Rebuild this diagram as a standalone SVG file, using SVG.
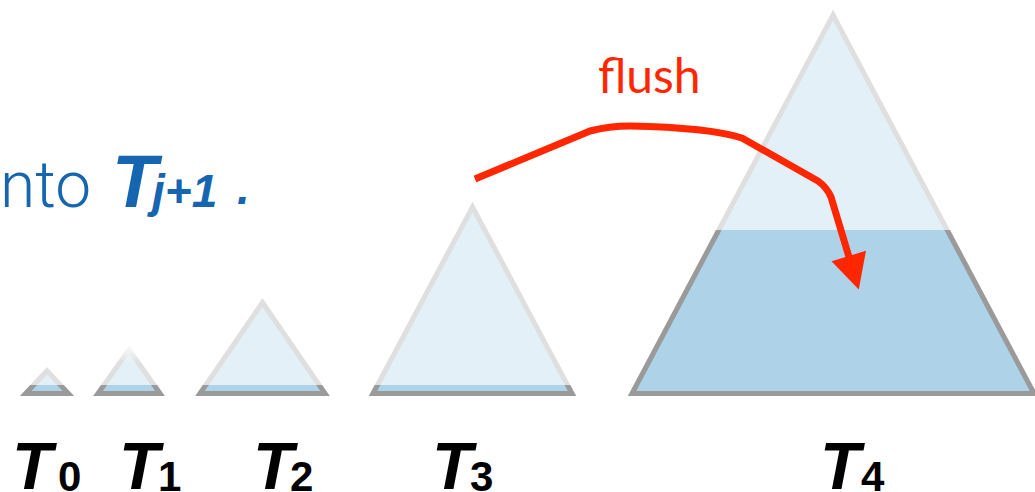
<svg xmlns="http://www.w3.org/2000/svg" width="1035" height="492" viewBox="0 0 1035 492">
<style>
.tri{fill:#e4f0f7;stroke:#dfdfdf;stroke-width:5;stroke-linejoin:miter}
.water{fill:#aed3e9;stroke:#9a9a9a;stroke-width:5;stroke-linejoin:miter}
.lbl{font-family:"Liberation Sans",Arial,sans-serif;font-weight:bold;font-style:italic;font-size:66px;fill:#000}
.sub{font-size:42px;font-style:normal}
.blue{font-family:Roboto,"Liberation Sans",sans-serif;font-weight:300;font-size:64px;fill:#1565b0}
.blueb{font-family:"Liberation Sans",Arial,sans-serif;font-weight:bold;font-style:italic;fill:#1565b0}
.flush{font-family:Lato,"Open Sans",sans-serif;font-size:48px;fill:#ff2600}
.arrow{fill:none;stroke:#ff2600;stroke-width:7;stroke-linejoin:round}
</style>
<defs>
<clipPath id="low"><rect x="0" y="385" width="1035" height="30"/></clipPath>
<clipPath id="low4"><rect x="0" y="230" width="1035" height="200"/></clipPath>
<linearGradient id="fadeFill" x1="0" y1="0" x2="0" y2="1">
<stop offset="0" stop-color="#f6fafc"/><stop offset="0.3" stop-color="#e4f0f7"/></linearGradient>
<linearGradient id="fadeStroke" x1="0" y1="0" x2="0" y2="1">
<stop offset="0" stop-color="#f5f5f5"/><stop offset="0.3" stop-color="#dfdfdf"/></linearGradient>
<marker id="head" markerUnits="userSpaceOnUse" viewBox="-2 -19 38 38" markerWidth="38" markerHeight="38" refX="0" refY="0" orient="auto">
<path d="M-1,-18 L34,0 L-1,18 z" fill="#ff2600"/>
</marker>
</defs>

<text class="blue" x="0" y="207">nto</text>
<text class="blueb" x="112" y="207" font-size="74">T</text>
<text class="blueb" x="152" y="207" font-size="46">j+1</text>
<text class="blueb" x="237" y="204" font-size="46" font-style="normal">.</text>

<g id="T0">
<polygon class="tri" points="47,370.7 68.3,393.5 25.7,393.5"/>
<polygon class="water" clip-path="url(#low)" points="47,370.7 68.3,393.5 25.7,393.5"/>
<text class="lbl" x="12" y="489">T<tspan class="sub" x="58" y="491">0</tspan></text>
</g>

<g id="T1">
<polygon class="tri" style="fill:url(#fadeFill);stroke:url(#fadeStroke)" points="129,349.5 160,393.5 98,393.5"/>
<polygon class="water" clip-path="url(#low)" points="129,349.5 160,393.5 98,393.5"/>
<text class="lbl" x="119" y="489">T<tspan class="sub" x="158" y="491">1</tspan></text>
</g>

<g id="T2">
<polygon class="tri" points="262.5,302.5 325,393.5 200,393.5"/>
<polygon class="water" clip-path="url(#low)" points="262.5,302.5 325,393.5 200,393.5"/>
<text class="lbl" x="253" y="489">T<tspan class="sub" x="290" y="491">2</tspan></text>
</g>

<g id="T3">
<polygon class="tri" points="472.5,207 572,393.5 373,393.5"/>
<polygon class="water" clip-path="url(#low)" points="472.5,207 572,393.5 373,393.5"/>
<text class="lbl" x="432" y="489">T<tspan class="sub" x="470" y="491">3</tspan></text>
</g>

<g id="T4">
<polygon class="tri" points="833,15 1034,393.5 632,393.5"/>
<polygon class="water" clip-path="url(#low4)" points="833,15 1034,393.5 632,393.5"/>
<text class="lbl" x="820" y="489">T<tspan class="sub" x="861" y="491">4</tspan></text>
</g>

<g id="connectors">
<path class="arrow" marker-end="url(#head)" d="M475,179 L590,131 C605,127 615,126 630,126 C680,127 720,131 742,138 L818,181 C825,186 828,190 831,197 L849,257"/>
<text class="flush" x="598" y="93">flush</text>
</g>
</svg>
